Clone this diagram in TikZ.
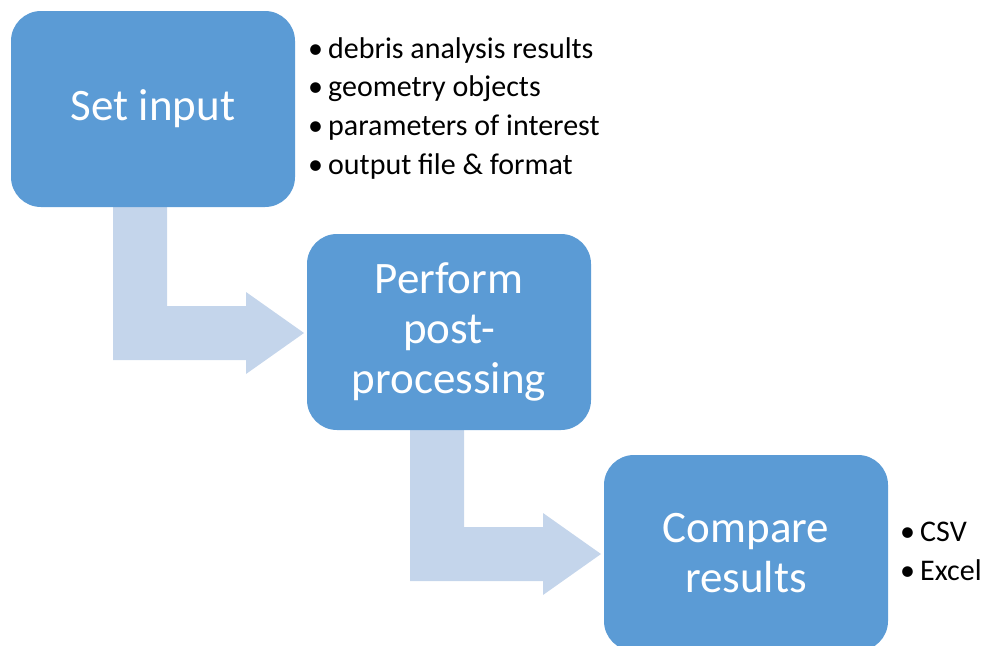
\documentclass[tikz,border=0pt]{standalone}
\usepackage{fontspec}
\setmainfont{Carlito}
\usetikzlibrary{positioning,calc}

\definecolor{stepblue}{RGB}{91,155,213}
\definecolor{flowblue}{RGB}{196,213,235}
\newcommand{\bul}{\makebox[20pt][l]{\textbullet}}

\tikzset{
  stepbox/.style={rectangle, rounded corners=30pt, fill=stepblue, text=white,
    minimum width=284pt, minimum height=196pt, align=center, inner sep=0pt,
    font=\fontsize{45}{50}\selectfont},
  notes/.style={align=left, anchor=north west, inner sep=0pt,
    font=\fontsize{30}{38.7}\selectfont},
  flow/.style={fill=flowblue}
}

\begin{document}
\begin{tikzpicture}[x=1pt, y=-1pt]
\useasboundingbox (0,0) rectangle (984,645);
% bent arrows behind the steps
\foreach \ox/\oy in {113/207, 410/428}
  \fill[flow, shift={(\ox,\oy)}] (0,0) -- (54,0) -- (54,99) -- (133,99) -- (133,85)
    -- (191,126) -- (133,167) -- (133,153) -- (0,153) -- cycle;
% steps
\node[stepbox] (set) at (153,109) {Set input};
\node[stepbox] (perform) at (449,332) {Perform\\post-\\processing};
\node[stepbox] (compare) at (746,553) {Compare\\results};
% notes
\node[notes] (inputs) at (308,37) {\bul debris analysis results\\ \bul geometry objects\\ \bul parameters of interest\\ \bul output file \& format};
\node[notes] (formats) at (900,522) {\bul CSV\\ \bul Excel};
\end{tikzpicture}
\end{document}
